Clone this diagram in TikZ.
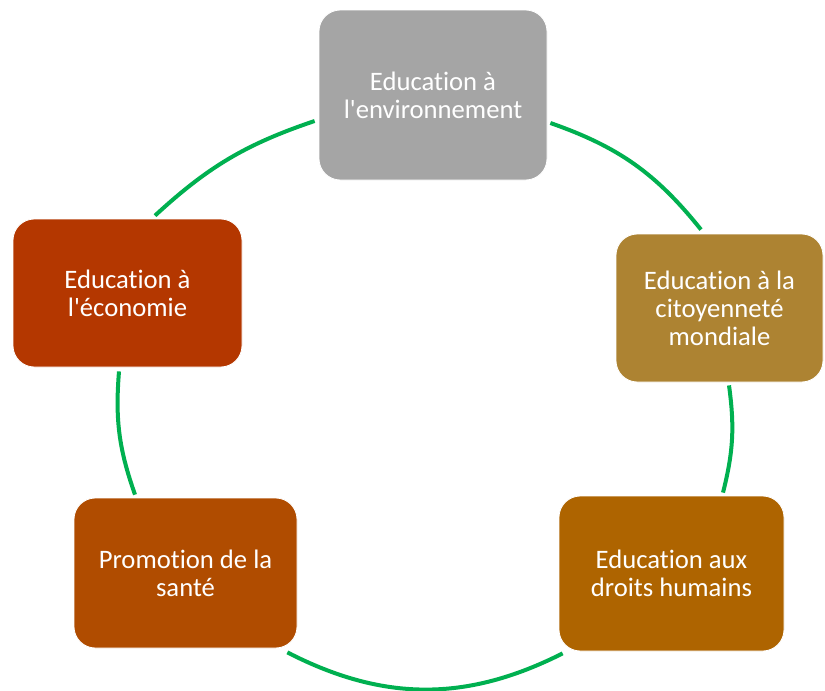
\documentclass[tikz,border=0pt]{standalone}
\usepackage{fontspec}
\setmainfont{Carlito}[Ligatures={TeXOff,CommonOff}]
\usetikzlibrary{backgrounds}

\definecolor{envgray}{HTML}{A5A5A5}
\definecolor{citgold}{HTML}{AD8332}
\definecolor{drobrown}{HTML}{AE6400}
\definecolor{sanbrown}{HTML}{B04C00}
\definecolor{ecored}{HTML}{B43700}
\definecolor{ringgreen}{HTML}{00B050}

\begin{document}
\begin{tikzpicture}[x=0.75pt,y=-0.75pt,background rectangle/.style={fill=white}, show background rectangle,
  box/.style={rectangle,rounded corners=16pt,draw=white,line width=0.6pt,text=white,align=center,inner sep=0pt,font=\fontsize{20}{21}\selectfont},
  ring/.style={draw=ringgreen,line width=3pt}]
  \useasboundingbox (0,0) rectangle (825,690);
  \node[box,fill=envgray,minimum width=171pt,minimum height=127.5pt] (env) at (433,95) {Education à\\l'environnement};
  \node[box,fill=citgold,minimum width=155.25pt,minimum height=111pt] (cit) at (719.5,308) {Education à la\\citoyenneté\\mondiale};
  \node[box,fill=drobrown,minimum width=168.75pt,minimum height=116.25pt] (dro) at (671.5,573.5) {Education aux\\droits humains};
  \node[box,fill=sanbrown,minimum width=167.25pt,minimum height=112.5pt] (san) at (185.5,573) {Promotion de la\\santé};
  \node[box,fill=ecored,minimum width=171.75pt,minimum height=111pt] (eco) at (127.5,293) {Education à\\l'économie};
  % cycle
  \draw[ring] ([shift={(27.5,-3)}]eco.north) to[bend left=12] ([shift={(-4,26)}]env.west);
  \draw[ring] ([shift={(3,28)}]env.east) to[bend left=16] ([shift={(-18.5,-4)}]cit.north);
  \draw[ring] ([shift={(9.5,3)}]cit.south) to[bend left=11] ([shift={(51.5,-3)}]dro.north);
  \draw[ring] ([shift={(4,2)}]dro.south west) to[bend left=27] ([shift={(-10,4)}]san.south east);
  \draw[ring] ([shift={(-50.5,-3)}]san.north) to[bend left=12] ([shift={(-8.5,4)}]eco.south);
\end{tikzpicture}
\end{document}
